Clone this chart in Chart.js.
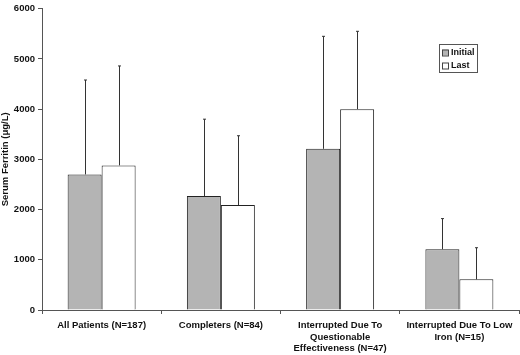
<!DOCTYPE html>
<html>
<head>
<meta charset="utf-8">
<script src="https://cdn.jsdelivr.net/npm/chart.js@4.4.0/dist/chart.umd.min.js"></script>
<style>
  html, body { margin: 0; padding: 0; background: #fff; }
  #wrap { width: 520px; height: 355px; }
</style>
</head>
<body>
<div id="wrap"><canvas id="ferritinChart" width="520" height="355"></canvas></div>
<script>
const ctx = document.getElementById('ferritinChart').getContext('2d');

// Groups and values (serum ferritin, ug/L), mean with upper SD
const groups = [
    ['All Patients (N=187)'],
    ['Completers (N=84)'],
    ['Interrupted Due To', 'Questionable', 'Effectiveness (N=47)'],
    ['Interrupted Due To Low', 'Iron (N=15)'],
];
const initialMean = [2700, 2270, 3210, 1210];
const initialTop = [4580, 3800, 5450, 1820];
const lastMean = [2880, 2090, 4000, 610];
const lastTop = [4860, 3470, 5550, 1240];
const yTicks = [0, 1000, 2000, 3000, 4000, 5000, 6000];

const FONT = 'Liberation Sans, Arial, sans-serif';
const AXIS = '#555';

// Upward error bars with small caps
const errorBars = {
    id: 'errorBars',
    afterDatasetsDraw(chart) {
        const c = chart.ctx;
        const y = chart.scales.y;
        c.save();
        c.strokeStyle = '#333';
        c.lineWidth = 1;
        chart.data.datasets.forEach((ds, di) => {
            const meta = chart.getDatasetMeta(di);
            meta.data.forEach((bar, i) => {
                const x = Math.round(bar.x) + 0.5;
                const yTop = y.getPixelForValue(ds.errTop[i]);
                c.beginPath();
                c.moveTo(x, bar.y);
                c.lineTo(x, yTop);
                c.moveTo(x - 1.5, yTop);
                c.lineTo(x + 1.5, yTop);
                c.stroke();
            });
        });
        c.restore();
    }
};

// Small boxed legend in the upper right
const boxLegend = {
    id: 'boxLegend',
    afterDraw(chart) {
        const c = chart.ctx;
        const x0 = 439, y0 = 44, w = 38, h = 28;
        c.save();
        c.fillStyle = '#fff';
        c.fillRect(x0, y0, w, h);
        c.strokeStyle = '#555';
        c.lineWidth = 1;
        c.strokeRect(x0 + 0.5, y0 + 0.5, w, h);
        c.font = 'bold 9px ' + FONT;
        c.textBaseline = 'middle';
        chart.data.datasets.forEach((ds, i) => {
            const cy = y0 + 8.5 + i * 13;
            c.fillStyle = ds.backgroundColor;
            c.fillRect(x0 + 3, cy - 3, 6, 6);
            c.strokeStyle = '#444';
            c.strokeRect(x0 + 3.5, cy - 2.5, 6, 6);
            c.fillStyle = '#111';
            c.fillText(ds.label, x0 + 12, cy + 0.5);
        });
        c.restore();
    }
};

new Chart(ctx, {
    type: 'bar',
    data: {
        labels: groups,
        datasets: [
            {
                label: 'Initial',
                data: initialMean,
                errTop: initialTop,
                backgroundColor: '#b4b4b4',
                borderColor: '#222',
                borderWidth: 1,
                borderSkipped: 'bottom',
                categoryPercentage: 0.57,
                barPercentage: 1.0,
            },
            {
                label: 'Last',
                data: lastMean,
                errTop: lastTop,
                backgroundColor: '#ffffff',
                borderColor: '#222',
                borderWidth: 1,
                borderSkipped: 'bottom',
                categoryPercentage: 0.57,
                barPercentage: 1.0,
            },
        ],
    },
    options: {
        responsive: false,
        animation: false,
        layout: { padding: { left: 0, right: 1, top: 5, bottom: 0 } },
        plugins: {
            legend: { display: false },
            tooltip: { enabled: false },
        },
        scales: {
            x: {
                afterFit: (s) => { s.height = 45; },
                grid: { drawOnChartArea: false, tickLength: 4, color: AXIS, offset: true },
                border: { color: AXIS },
                ticks: {
                    color: '#111',
                    font: { family: FONT, size: 9.5, weight: 'bold', lineHeight: 1.2 },
                    maxRotation: 0,
                    autoSkip: false,
                    padding: 6,
                },
            },
            y: {
                min: 0,
                max: 6000,
                afterFit: (s) => { s.width = 42; },
                afterBuildTicks: (s) => { s.ticks = yTicks.map((v) => ({ value: v })); },
                grid: { drawOnChartArea: false, tickLength: 4, color: AXIS },
                border: { color: AXIS },
                ticks: {
                    color: '#111',
                    font: { family: FONT, size: 9.5, weight: 'bold' },
                    padding: 3,
                    callback: (v) => String(v),
                },
                title: {
                    display: true,
                    text: 'Serum Ferritin (\u03bcg/L)',
                    color: '#111',
                    font: { family: FONT, size: 9.5, weight: 'bold' },
                    padding: 0,
                },
            },
        },
    },
    plugins: [errorBars, boxLegend],
});
</script>
</body>
</html>
